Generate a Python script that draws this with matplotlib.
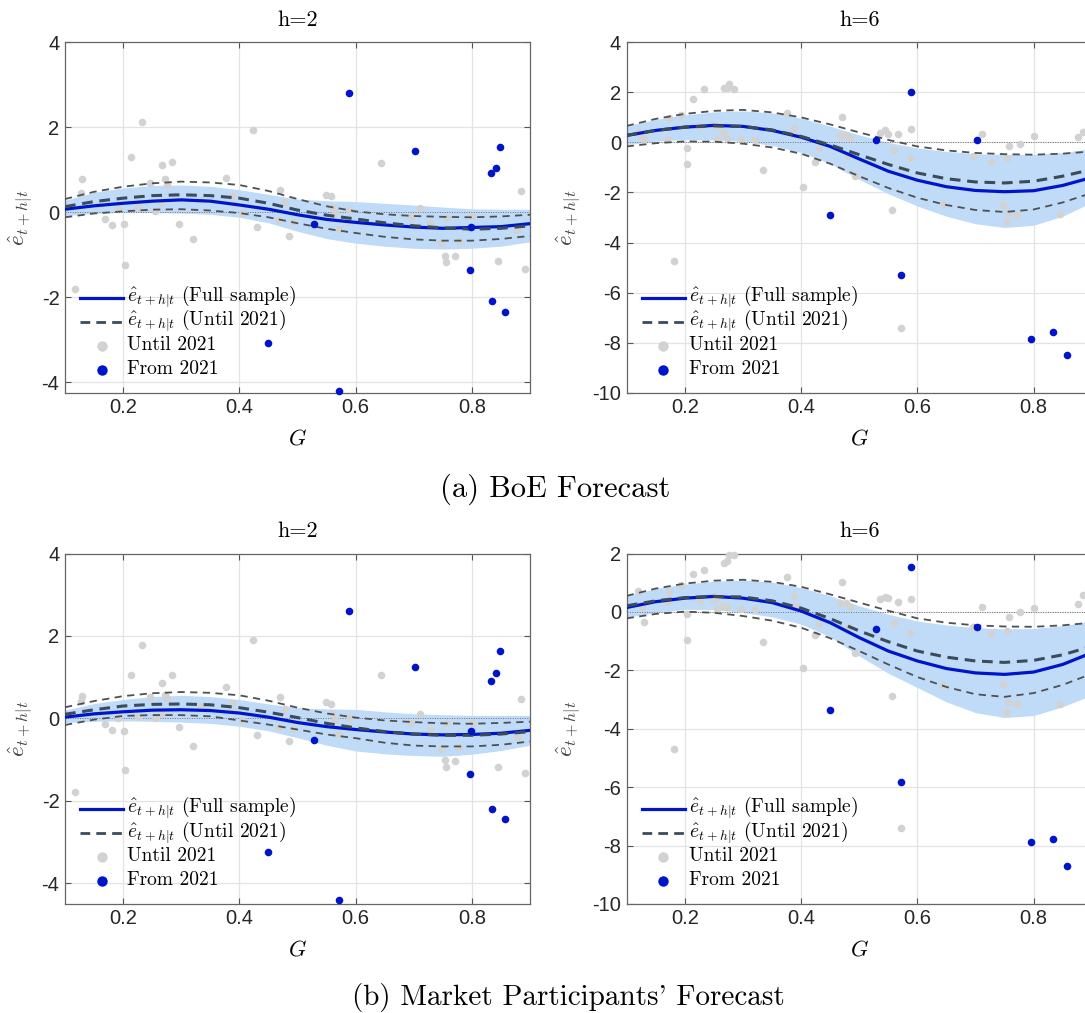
import numpy as np
import matplotlib
matplotlib.use("Agg")
import matplotlib.pyplot as plt

plt.rcParams['mathtext.fontset'] = 'cm'
plt.rcParams['axes.unicode_minus'] = False
plt.rcParams['font.family'] = 'Liberation Sans'

# grid of G where the curves were read
g_grid = [0.10, 0.15, 0.20, 0.25, 0.30, 0.35, 0.40, 0.45, 0.50, 0.55, 0.60,
          0.65, 0.70, 0.75, 0.80, 0.85, 0.90]

# --- BoE, h=2 ---
boe2_full = [0.07, 0.15, 0.21, 0.26, 0.29, 0.26, 0.17, 0.07, -0.06, -0.17, -0.24, -0.30, -0.35, -0.38, -0.36, -0.34, -0.27]
boe2_band_hi = [0.28, 0.47, 0.57, 0.63, 0.64, 0.61, 0.53, 0.42, 0.31, 0.27, 0.25, 0.21, 0.17, 0.12, 0.08, 0.07, 0.07]
boe2_band_lo = [-0.08, -0.03, 0.00, -0.01, -0.02, -0.05, -0.12, -0.25, -0.45, -0.62, -0.73, -0.80, -0.85, -0.87, -0.85, -0.80, -0.70]
boe2_until = [0.13, 0.25, 0.33, 0.39, 0.41, 0.39, 0.33, 0.21, 0.05, -0.07, -0.16, -0.25, -0.32, -0.37, -0.40, -0.38, -0.32]
boe2_until_hi = [0.31, 0.48, 0.60, 0.68, 0.72, 0.70, 0.64, 0.50, 0.31, 0.14, 0.02, -0.05, -0.09, -0.11, -0.12, -0.10, -0.06]
boe2_until_lo = [-0.12, -0.03, 0.02, 0.06, 0.07, 0.04, -0.02, -0.12, -0.26, -0.39, -0.49, -0.58, -0.64, -0.67, -0.67, -0.63, -0.56]

# --- BoE, h=6 ---
boe6_full = [0.28, 0.48, 0.61, 0.68, 0.64, 0.48, 0.21, -0.16, -0.66, -1.15, -1.51, -1.77, -1.92, -1.97, -1.93, -1.72, -1.40]
boe6_band_hi = [0.66, 0.92, 1.10, 1.22, 1.26, 1.18, 0.97, 0.65, 0.30, 0.00, -0.22, -0.36, -0.45, -0.48, -0.48, -0.40, -0.25]
boe6_band_lo = [-0.09, 0.05, 0.11, 0.10, 0.04, -0.12, -0.40, -0.85, -1.48, -2.05, -2.54, -2.95, -3.25, -3.40, -3.31, -2.95, -2.40]
boe6_until = [0.28, 0.48, 0.61, 0.66, 0.64, 0.50, 0.24, -0.10, -0.49, -0.88, -1.22, -1.45, -1.58, -1.62, -1.55, -1.35, -1.08]
boe6_until_hi = [0.66, 0.94, 1.14, 1.26, 1.30, 1.20, 1.00, 0.72, 0.40, 0.10, -0.16, -0.32, -0.42, -0.47, -0.49, -0.45, -0.36]
boe6_until_lo = [-0.16, -0.03, 0.04, 0.03, -0.05, -0.20, -0.45, -0.85, -1.35, -1.82, -2.21, -2.50, -2.70, -2.78, -2.68, -2.40, -2.02]

# --- Market participants, h=2 ---
mkt2_full = [0.03, 0.11, 0.16, 0.20, 0.21, 0.19, 0.13, 0.03, -0.10, -0.20, -0.27, -0.33, -0.38, -0.40, -0.39, -0.36, -0.29]
mkt2_band_hi = [0.20, 0.36, 0.46, 0.53, 0.56, 0.53, 0.46, 0.35, 0.26, 0.23, 0.22, 0.16, 0.11, 0.09, 0.07, 0.07, 0.07]
mkt2_band_lo = [-0.10, -0.07, -0.06, -0.07, -0.09, -0.12, -0.19, -0.30, -0.47, -0.65, -0.79, -0.86, -0.90, -0.92, -0.87, -0.78, -0.65]
mkt2_until = [0.10, 0.21, 0.30, 0.34, 0.35, 0.33, 0.26, 0.15, 0.02, -0.12, -0.23, -0.32, -0.38, -0.41, -0.41, -0.38, -0.32]
mkt2_until_hi = [0.27, 0.42, 0.54, 0.61, 0.64, 0.62, 0.56, 0.43, 0.26, 0.12, 0.02, -0.05, -0.09, -0.12, -0.13, -0.11, -0.08]
mkt2_until_lo = [-0.16, -0.03, 0.06, 0.08, 0.08, 0.05, -0.05, -0.15, -0.27, -0.39, -0.48, -0.59, -0.66, -0.68, -0.68, -0.64, -0.56]

# --- Market participants, h=6 ---
mkt6_full = [0.15, 0.35, 0.47, 0.53, 0.47, 0.32, 0.03, -0.37, -0.88, -1.34, -1.68, -1.94, -2.09, -2.14, -2.06, -1.80, -1.40]
mkt6_band_hi = [0.55, 0.80, 0.95, 1.05, 1.09, 1.02, 0.83, 0.55, 0.21, -0.08, -0.31, -0.45, -0.54, -0.58, -0.57, -0.47, -0.31]
mkt6_band_lo = [-0.19, -0.02, 0.09, 0.08, -0.02, -0.17, -0.42, -0.85, -1.51, -2.10, -2.59, -3.08, -3.45, -3.62, -3.55, -3.25, -2.85]
mkt6_until = [0.21, 0.38, 0.49, 0.53, 0.51, 0.38, 0.13, -0.23, -0.65, -1.02, -1.34, -1.55, -1.68, -1.73, -1.66, -1.47, -1.18]
mkt6_until_hi = [0.55, 0.80, 0.97, 1.07, 1.10, 1.03, 0.86, 0.60, 0.32, 0.04, -0.22, -0.37, -0.46, -0.50, -0.51, -0.46, -0.37]
mkt6_until_lo = [-0.22, -0.07, 0.01, -0.03, -0.14, -0.30, -0.54, -0.90, -1.34, -1.80, -2.23, -2.57, -2.82, -2.91, -2.78, -2.50, -2.12]

# --- scatter points, h=2 ---
g2_old = [0.118, 0.127, 0.130, 0.168, 0.180, 0.192, 0.202, 0.203, 0.214, 0.226, 0.232, 0.247, 0.254, 0.266,
          0.267, 0.272, 0.275, 0.284, 0.296, 0.321, 0.334, 0.377, 0.387, 0.390, 0.404, 0.423, 0.430, 0.466,
          0.470, 0.479, 0.485, 0.492, 0.549, 0.557, 0.560, 0.565, 0.572, 0.588, 0.587, 0.643, 0.696, 0.711,
          0.728, 0.747, 0.754, 0.756, 0.758, 0.771, 0.777, 0.801, 0.845, 0.877, 0.885, 0.891]
boe2_old = [-1.80, 0.45, 0.78, -0.15, -0.31, 0.09, -0.28, -1.25, 1.29, 0.13, 2.13, 0.68, 0.02, 0.21,
            1.11, 0.78, 0.64, 1.19, -0.27, -0.64, 0.29, 0.80, 0.37, 0.20, -0.02, 1.93, -0.35, -0.18,
            0.53, 0.23, -0.56, -0.24, 0.41, 0.38, 0.13, -0.02, -0.40, 0.05, -0.22, 1.15, -0.12, 0.11,
            -0.26, -0.73, -1.03, -1.17, -0.14, -1.04, -0.67, -0.09, -1.15, -0.43, 0.51, -1.33]
mkt2_old = [-1.79, 0.41, 0.55, -0.13, -0.28, 0.02, -0.31, -1.25, 1.06, 0.03, 1.78, 0.52, 0.02, 0.11,
            0.85, 0.56, 0.50, 1.06, -0.20, -0.66, 0.29, 0.77, 0.38, 0.18, -0.05, 1.90, -0.40, -0.20,
            0.51, 0.23, -0.55, -0.25, 0.40, 0.35, 0.11, -0.05, -0.39, 0.02, -0.21, 1.06, -0.12, 0.10,
            -0.29, -0.74, -1.02, -1.17, -0.10, -1.04, -0.69, -0.11, -1.17, -0.44, 0.48, -1.32]
g2_new = [0.449, 0.528, 0.572, 0.588, 0.702, 0.796, 0.799, 0.833, 0.834, 0.842, 0.848, 0.857]
boe2_new = [-3.09, -0.27, -4.22, 2.80, 1.44, -1.36, -0.35, 0.92, -2.09, 1.04, 1.54, -2.36]
mkt2_new = [-3.25, -0.52, -4.40, 2.61, 1.25, -1.35, -0.31, 0.90, -2.19, 1.10, 1.64, -2.44]

# --- scatter points, h=6 ---
g6_old = [0.120, 0.127, 0.130, 0.169, 0.173, 0.181, 0.194, 0.203, 0.203, 0.214, 0.226, 0.233, 0.249, 0.253,
          0.256, 0.266, 0.267, 0.273, 0.276, 0.273, 0.285, 0.296, 0.321, 0.335, 0.376, 0.388, 0.391, 0.404,
          0.424, 0.430, 0.467, 0.471, 0.478, 0.481, 0.484, 0.493, 0.535, 0.544, 0.550, 0.557, 0.560, 0.566,
          0.572, 0.587, 0.589, 0.644, 0.696, 0.712, 0.727, 0.747, 0.754, 0.756, 0.757, 0.754, 0.772, 0.777,
          0.801, 0.845, 0.877, 0.885]
boe6_old = [0.40, 0.21, 0.15, 0.13, 0.97, -4.73, 1.10, -0.23, -0.85, 1.72, 0.64, 2.13, 0.70, 0.66,
            0.13, 0.40, 2.16, 2.16, 2.32, 0.17, 2.13, 0.13, 0.11, -1.09, 1.19, 0.57, 0.25, -1.79,
            -0.79, -0.21, 0.26, 1.03, 0.30, -0.56, 0.17, -1.35, 0.37, 0.50, 0.34, -2.70, -0.32, 0.34,
            -7.40, -0.64, 0.54, -2.48, -0.53, 0.32, -0.78, -2.50, -3.17, -2.81, -0.16, -0.64, -2.91, -0.05,
            0.26, -2.85, 0.21, 0.42]
mkt6_old = [0.72, 0.17, -0.34, 0.34, 0.69, -4.69, 0.91, -0.08, -0.95, 1.29, 0.38, 1.44, 0.43, 0.47,
            0.11, 0.21, 1.69, 1.75, 1.94, 0.17, 1.94, 0.10, 0.09, -1.02, 1.21, 0.53, 0.21, -1.91,
            -0.79, -0.40, 0.30, 1.03, 0.32, -0.50, 0.17, -1.42, 0.45, 0.51, 0.49, -2.88, -0.37, 0.34,
            -7.39, -0.71, 0.43, -2.50, -0.51, 0.17, -0.77, -2.46, -3.42, -3.07, -0.19, -0.67, -3.14, 0.00,
            0.13, -3.14, 0.26, 0.58]
g6_new = [0.450, 0.529, 0.572, 0.589, 0.702, 0.796, 0.834, 0.858]
boe6_new = [-2.90, 0.11, -5.28, 2.03, 0.08, -7.85, -7.58, -8.50]
mkt6_new = [-3.36, -0.59, -5.83, 1.54, -0.51, -7.87, -7.79, -8.69]

panel_titles = ['h=2', 'h=6']
captions = ['(a) BoE Forecast', "(b) Market Participants' Forecast"]
legend_labels = [r'$\hat{e}_{t+h|t}$ (Full sample)', r'$\hat{e}_{t+h|t}$ (Until 2021)',
                 'Until 2021', 'From 2021']

BLUE = '#0015c9'
BAND = '#c0dbf8'
GREY = '#d2d2d2'
DARKDASH = '#3b4b5c'
THINDASH = '#505050'
CM = 'cmr10'

W, H = 1085, 1013
fig = plt.figure(figsize=(W / 100, H / 100), dpi=100)


def make_axes(left_px, top_px, bottom_px):
    return fig.add_axes([left_px / W, 1 - bottom_px / H, 465 / W, (bottom_px - top_px) / H])


def draw_legend(ax):
    # rows laid out by hand so that every row has the same pitch, as in the figure
    rows = [0.271, 0.202, 0.134, 0.065]
    x0, x1, xt = 0.032, 0.125, 0.133
    tr = ax.transAxes
    ax.plot([x0, x1], [rows[0]] * 2, color=BLUE, lw=2.3, transform=tr, clip_on=False, zorder=9)
    ax.plot([x0, x1], [rows[1]] * 2, color=DARKDASH, lw=2.0, dashes=(3.5, 2.2),
            transform=tr, clip_on=False, zorder=9)
    ax.plot([(x0 + x1) / 2], [rows[2]], 'o', ms=7.5, mfc=GREY, mec='none', transform=tr, zorder=9)
    ax.plot([(x0 + x1) / 2], [rows[3]], 'o', ms=7.5, mfc=BLUE, mec='none', transform=tr, zorder=9)
    for y, lab in zip(rows, legend_labels):
        ax.text(xt, y - 0.012, lab, transform=tr, family=CM, fontsize=14,
                ha='left', va='baseline', zorder=9)


def draw_panel(ax, full, hi, lo, until, until_hi, until_lo, g_old, old, g_new, new,
               ylim, yticks, title, ylab_x):
    ax.fill_between(g_grid, lo, hi, color=BAND, lw=0, zorder=1)
    ax.axhline(0, color='#707070', lw=0.7, ls=(0, (1, 1.5)), zorder=2)
    ax.scatter(g_old, old, s=30, color=GREY, lw=0, zorder=3, clip_on=False)
    ax.plot(g_grid, until_hi, color=THINDASH, lw=1.3, dashes=(4, 3), zorder=4)
    ax.plot(g_grid, until_lo, color=THINDASH, lw=1.3, dashes=(4, 3), zorder=4)
    ax.plot(g_grid, full, color=BLUE, lw=2.3, zorder=5)
    ax.plot(g_grid, until, color=DARKDASH, lw=2.2, dashes=(3.5, 2.2), zorder=6)
    ax.scatter(g_new, new, s=30, color=BLUE, lw=0, zorder=7, clip_on=False)

    ax.set_xlim(0.1, 0.9)
    ax.set_ylim(*ylim)
    ax.set_xticks([0.2, 0.4, 0.6, 0.8])
    ax.set_xticklabels(['0.2', '0.4', '0.6', '0.8'])
    ax.set_yticks(yticks)
    ax.set_yticklabels([str(t) for t in yticks])
    ax.tick_params(direction='in', length=4, width=0.8, labelsize=14.5, colors='#555555',
                   labelcolor='#262626', top=True, right=True, pad=4)
    ax.grid(True, color='#e3e3e3', lw=0.9, zorder=0)
    ax.set_axisbelow(True)
    for sp in ax.spines.values():
        sp.set_color('#666666')
        sp.set_linewidth(0.9)

    ax.set_title(title, family=CM, fontsize=16, pad=12)
    ax.set_xlabel('$G$', fontsize=16, labelpad=8)
    ax.set_ylabel(r'$\hat{e}_{t+h|t}$', fontsize=16.5, color='#404040')
    ax.yaxis.set_label_coords(ylab_x, 0.5)
    draw_legend(ax)


top_a, bot_a = 42.3, 392.7
top_b, bot_b = 553.5, 903.9

ax = make_axes(65, top_a, bot_a)
draw_panel(ax, boe2_full, boe2_band_hi, boe2_band_lo, boe2_until, boe2_until_hi, boe2_until_lo,
           g2_old, boe2_old, g2_new, boe2_new, (-4.25, 4), [-4, -2, 0, 2, 4], panel_titles[0], -0.065)

ax = make_axes(626.7, top_a, bot_a)
draw_panel(ax, boe6_full, boe6_band_hi, boe6_band_lo, boe6_until, boe6_until_hi, boe6_until_lo,
           g6_old, boe6_old, g6_new, boe6_new, (-10, 4), [-10, -8, -6, -4, -2, 0, 2, 4], panel_titles[1], -0.094)

ax = make_axes(65, top_b, bot_b)
draw_panel(ax, mkt2_full, mkt2_band_hi, mkt2_band_lo, mkt2_until, mkt2_until_hi, mkt2_until_lo,
           g2_old, mkt2_old, g2_new, mkt2_new, (-4.5, 4), [-4, -2, 0, 2, 4], panel_titles[0], -0.065)

ax = make_axes(626.7, top_b, bot_b)
draw_panel(ax, mkt6_full, mkt6_band_hi, mkt6_band_lo, mkt6_until, mkt6_until_hi, mkt6_until_lo,
           g6_old, mkt6_old, g6_new, mkt6_new, (-10, 2), [-10, -8, -6, -4, -2, 0, 2], panel_titles[1], -0.094)

fig.text(555 / W, 1 - 489 / H, captions[0], family=CM, fontsize=22, ha='center', va='center')
fig.text(568 / W, 1 - 997 / H, captions[1], family=CM, fontsize=21, ha='center', va='center')

fig.savefig('out.png', dpi=100)
